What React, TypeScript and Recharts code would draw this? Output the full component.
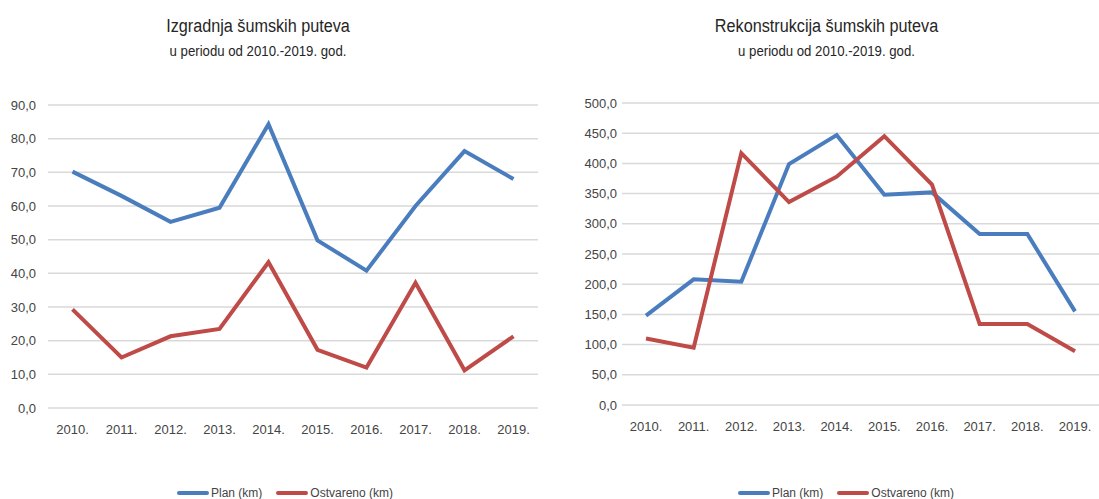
import React from 'react';
import { LineChart, Line, XAxis, YAxis, CartesianGrid } from 'recharts';

const years = ['2010.', '2011.', '2012.', '2013.', '2014.', '2015.', '2016.', '2017.', '2018.', '2019.'];

const izgradnjaPlan = [70.2, 63.0, 55.3, 59.5, 84.3, 49.8, 40.8, 60.0, 76.3, 68.0];
const izgradnjaOstvareno = [29.3, 15.0, 21.3, 23.5, 43.3, 17.3, 12.0, 37.2, 11.2, 21.3];
const izgradnjaTicks = [0, 10, 20, 30, 40, 50, 60, 70, 80, 90];

const rekonPlan = [148, 208, 204, 399, 447, 348, 352, 283, 283, 155];
const rekonOstvareno = [110, 95, 417, 336, 378, 445, 365, 134, 134, 89];
const rekonTicks = [0, 50, 100, 150, 200, 250, 300, 350, 400, 450, 500];

const FONT = '"Liberation Sans Narrow", "Liberation Sans", Arial, sans-serif';
const TEXT = '#444444';
const BLUE = '#4A7DBE';
const RED = '#BE4B48';
const GRID = '#D9D9D9';

const fmt = (v: number) => v.toFixed(1).replace('.', ',');

const build = (plan: number[], ost: number[]) =>
  years.map((y, i) => ({ year: y, plan: plan[i], ostvareno: ost[i] }));

interface PanelProps {
  left: number;
  width: number;
  title: string;
  titleShift: number;
  plan: number[];
  ost: number[];
  ticks: number[];
  yWidth: number;
  tickMargin: number;
  top: number;
  bottom: number;
  pad: number;
  legendLeft: number;
}

function Panel({ left, width, title, titleShift, plan, ost, ticks, yWidth, tickMargin, top, bottom, pad, legendLeft }: PanelProps) {
  const data = build(plan, ost);
  const max = ticks[ticks.length - 1];
  return (
    <div style={{ position: 'absolute', left, top: 0, width, height: 499 }}>
      <div style={{ position: 'absolute', left: titleShift, top: 14, width: '100%', textAlign: 'center', fontFamily: FONT, color: '#262626' }}>
        <div style={{ fontSize: 18, lineHeight: '24px', transform: 'scaleX(0.9)' }}>{title}</div>
        <div style={{ fontSize: 15, lineHeight: '26px', transform: 'scaleX(0.88)' }}>u periodu od 2010.-2019. god.</div>
      </div>
      <LineChart width={width} height={499} data={data} margin={{ top, right: 0, bottom, left: 0 }}>
        <CartesianGrid vertical={false} stroke={GRID} strokeWidth={1.5} />
        <XAxis
          dataKey="year"
          axisLine={false}
          tickLine={false}
          tickSize={0}
          tickMargin={17}
          height={30}
          interval={0}
          padding={{ left: pad, right: pad }}
          tick={{ fill: TEXT, fontSize: 13, fontFamily: FONT }}
        />
        <YAxis
          domain={[0, max]}
          ticks={ticks}
          tickFormatter={fmt}
          axisLine={false}
          tickLine={false}
          tickSize={0}
          tickMargin={tickMargin}
          width={yWidth}
          interval={0}
          tick={{ fill: TEXT, fontSize: 13, fontFamily: FONT }}
        />
        <Line type="linear" dataKey="plan" stroke={BLUE} strokeWidth={4} dot={false} isAnimationActive={false} />
        <Line type="linear" dataKey="ostvareno" stroke={RED} strokeWidth={4} dot={false} isAnimationActive={false} />
      </LineChart>
      <div style={{ position: 'absolute', left: legendLeft, top: 486, display: 'flex', alignItems: 'center', fontFamily: FONT, fontSize: 12, color: TEXT }}>
        <span style={{ display: 'inline-block', width: 32, height: 4, background: BLUE, borderRadius: 2 }} />
        <span style={{ marginLeft: 2 }}>Plan (km)</span>
        <span style={{ display: 'inline-block', width: 32, height: 4, background: RED, borderRadius: 2, marginLeft: 14 }} />
        <span style={{ marginLeft: 2 }}>Ostvareno (km)</span>
      </div>
    </div>
  );
}

export default function App() {
  return (
    <div style={{ position: 'absolute', left: 0, top: 0, width: 1099, height: 499, background: '#fff', overflow: 'hidden' }}>
      <Panel
        left={0}
        width={538}
        title="Izgradnja šumskih puteva"
        titleShift={-11}
        plan={izgradnjaPlan}
        ost={izgradnjaOstvareno}
        ticks={izgradnjaTicks}
        yWidth={48}
        tickMargin={12}
        top={105}
        bottom={61}
        pad={24.5}
        legendLeft={177}
      />
      <Panel
        left={550}
        width={549}
        title="Rekonstrukcija šumskih puteva"
        titleShift={2}
        plan={rekonPlan}
        ost={rekonOstvareno}
        ticks={rekonTicks}
        yWidth={72}
        tickMargin={5}
        top={103}
        bottom={64}
        pad={24}
        legendLeft={188}
      />
    </div>
  );
}
